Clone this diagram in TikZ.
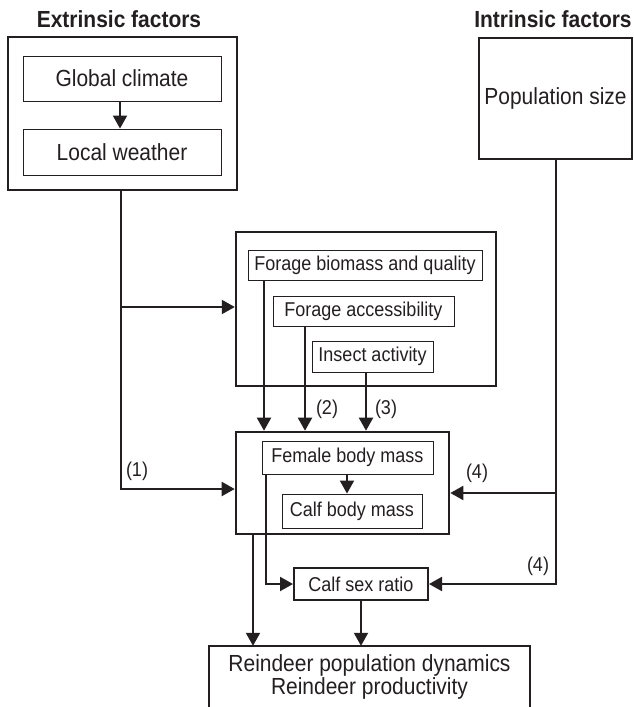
\documentclass[tikz,border=0pt]{standalone}
\usepackage{fontspec}
\setmainfont{Liberation Sans}[FakeStretch=0.9]
\usetikzlibrary{arrows.meta}
\definecolor{ink}{HTML}{231F20}
\begin{document}
\begin{tikzpicture}[x=1pt,y=-1pt,
  every node/.style={inner sep=0pt, text=ink},
  bigtxt/.style={font=\fontsize{23.3}{26}\selectfont},
  smalltxt/.style={font=\fontsize{20}{22}\selectfont},
  outerbox/.style={draw=ink, line width=2.6pt},
  innerbox/.style={draw=ink, line width=0.9pt},
  arr/.style={draw=ink, line width=2pt, -{Triangle[length=13pt,width=14pt]}},
  lbl/.style={smalltxt}]
\useasboundingbox (0,0) rectangle (633,707);

% titles
\node[font=\fontsize{23.3}{26}\selectfont\bfseries] (tExt) at (119,19) {Extrinsic factors};
\node[font=\fontsize{23.3}{26}\selectfont\bfseries] (tInt) at (553,19) {Intrinsic factors};

% extrinsic
\node[outerbox, minimum width=229, minimum height=153] (ext) at (122.5,113.5) {};
\node[innerbox, bigtxt, minimum width=198, minimum height=45] (glob) at (122,78.5) {Global climate};
\node[innerbox, bigtxt, minimum width=198, minimum height=46] (loc) at (122,152) {Local weather};

% intrinsic
\node[outerbox, bigtxt, minimum width=153, minimum height=121] (pop) at (555.5,98.5) {Population size};

% forage group
\node[outerbox, line width=2.4pt, minimum width=260, minimum height=154] (mid) at (366,309) {};
\node[innerbox, smalltxt, minimum width=234, minimum height=30] (forage) at (365,265) {Forage biomass and quality};
\node[innerbox, smalltxt, minimum width=181, minimum height=30] (access) at (363.5,311) {Forage accessibility};
\node[innerbox, smalltxt, minimum width=121, minimum height=31] (insect) at (372.5,356.5) {Insect activity};

% body mass group
\node[outerbox, minimum width=213, minimum height=102] (body) at (342.5,483) {};
\node[innerbox, smalltxt, minimum width=171, minimum height=33] (female) at (347.5,457.5) {Female body mass};
\node[innerbox, smalltxt, minimum width=140, minimum height=34] (calf) at (352,511) {Calf body mass};

% calf sex ratio
\node[draw=ink, line width=2pt, smalltxt, minimum width=134, minimum height=32] (sex) at (361,584) {Calf sex ratio};

% reindeer
\node[bigtxt, align=center, minimum width=321, minimum height=62] (rein) at (369.5,677)
  {Reindeer population dynamics\\[-3pt]Reindeer productivity};
\draw[draw=ink, line width=2pt] (rein.south west) -- (rein.north west) -- (rein.north east) -- (rein.south east);

% helper coordinates (x positions / y levels)
\coordinate (c1) at (264,0);
\coordinate (c2) at (305,0);
\coordinate (c3) at (366,0);
\coordinate (c4) at (347,0);
\coordinate (c5) at (0,493);
\coordinate (c6) at (266,0);
\coordinate (c7) at (253,0);
\coordinate (c8) at (0,489);
\coordinate (c9) at (0,307);

% connectors
\draw[arr] (glob.south -| 120,0) -- (loc.north -| 120,0);
\draw[arr] (ext.south -| 121,0) |- (body.west |- c8);
\draw[arr] (c9 -| 121,0) -- (mid.west |- c9);
\draw[arr] (forage.south -| c1) -- (body.north -| c1);
\draw[arr] (access.south -| c2) -- (body.north -| c2);
\draw[arr] (insect.south -| c3) -- (body.north -| c3);
\draw[arr] (female.south -| c4) -- (calf.north -| c4);
\draw[arr] (pop.south) |- (sex.east);
\draw[arr] (pop.south |- c5) -- (body.east |- c5);
\draw[arr] (female.south -| c6) |- (sex.west);
\draw[arr] (body.south -| c7) -- (rein.north -| c7);
\draw[arr] (sex.south) -- (sex.south |- rein.north);

% labels
\node[lbl] (l1) at (137,471) {(1)};
\node[lbl] (l2) at (327,409) {(2)};
\node[lbl] (l3) at (386,409) {(3)};
\node[lbl] (l4a) at (477,473) {(4)};
\node[lbl] (l4b) at (538,566) {(4)};
\end{tikzpicture}
\end{document}
